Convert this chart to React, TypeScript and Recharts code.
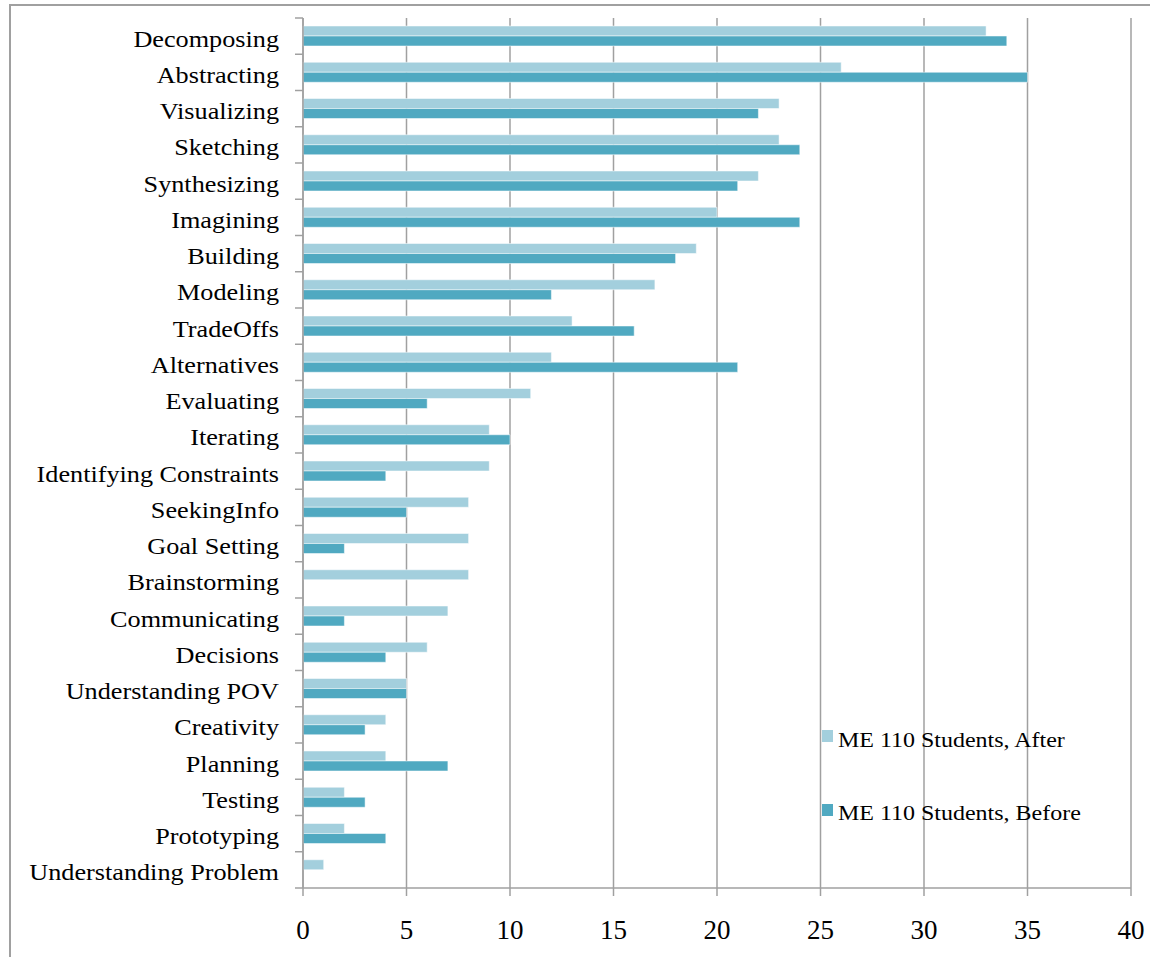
import React from "react";
import { BarChart, Bar, XAxis, YAxis, CartesianGrid, Legend } from "recharts";

const categories = [
  "Decomposing",
  "Abstracting",
  "Visualizing",
  "Sketching",
  "Synthesizing",
  "Imagining",
  "Building",
  "Modeling",
  "TradeOffs",
  "Alternatives",
  "Evaluating",
  "Iterating",
  "Identifying Constraints",
  "SeekingInfo",
  "Goal Setting",
  "Brainstorming",
  "Communicating",
  "Decisions",
  "Understanding POV",
  "Creativity",
  "Planning",
  "Testing",
  "Prototyping",
  "Understanding Problem",
];

const afterValues = [33, 26, 23, 23, 22, 20, 19, 17, 13, 12, 11, 9, 9, 8, 8, 8, 7, 6, 5, 4, 4, 2, 2, 1];
const beforeValues = [34, 35, 22, 24, 21, 24, 18, 12, 16, 21, 6, 10, 4, 5, 2, 0, 2, 4, 5, 3, 7, 3, 4, 0];

const xTicks = [0, 5, 10, 15, 20, 25, 30, 35, 40];
const seriesNames = ["ME 110 Students, After", "ME 110 Students, Before"];
const seriesColors = ["#a3cfdd", "#50a9c1"];

const data = categories.map((name, i) => ({
  name,
  after: afterValues[i],
  before: beforeValues[i],
}));

const W = 1150;
const H = 957;
const PLOT_LEFT = 303;
const PLOT_TOP = 18;
const PLOT_BOTTOM = 888;
const BAND = (PLOT_BOTTOM - PLOT_TOP) / categories.length;
const GRAY = "#a0a0a0";
const FONT = "'Liberation Serif', 'Times New Roman', serif";

// category labels plus Excel-style tick marks on the band edges
function YTick(props: any) {
  const { y, payload, index } = props;
  const last = index === categories.length - 1;
  return (
    <g>
      <line x1={PLOT_LEFT - 8} x2={PLOT_LEFT} y1={y - BAND / 2} y2={y - BAND / 2} stroke={GRAY} strokeWidth={1.5} />
      {last && (
        <line x1={PLOT_LEFT - 8} x2={PLOT_LEFT} y1={y + BAND / 2} y2={y + BAND / 2} stroke={GRAY} strokeWidth={1.5} />
      )}
      <text
        transform={`translate(${PLOT_LEFT - 24}, ${y + 10.5}) scale(1.14, 1)`}
        textAnchor="end"
        fontFamily={FONT}
        fontSize={23}
        fill="#000"
      >
        {payload.value}
      </text>
    </g>
  );
}

function XTick(props: any) {
  const { x, payload } = props;
  return (
    <text x={x} y={PLOT_BOTTOM + 51} textAnchor="middle" fontFamily={FONT} fontSize={27} fill="#000">
      {payload.value}
    </text>
  );
}

function LegendBox() {
  return (
    <svg width={330} height={130}>
      {seriesNames.map((n, i) => (
        <g key={n}>
          <rect x={0} y={30 + i * 74} width={11} height={12} fill={seriesColors[i]} />
          <text
            transform={`translate(16, ${47 + i * 73}) scale(1.17, 1)`}
            fontFamily={FONT}
            fontSize={20.5}
            fill="#000"
          >
            {n}
          </text>
        </g>
      ))}
    </svg>
  );
}

export default function App() {
  return (
    <div style={{ position: "absolute", left: 0, top: 0, width: W, height: H, overflow: "hidden", background: "#fff" }}>
      <div
        style={{
          position: "absolute",
          left: 9,
          top: 4,
          width: 1200,
          height: 1000,
          borderTop: `2px solid ${GRAY}`,
          borderLeft: `2px solid ${GRAY}`,
        }}
      />
      <div style={{ position: "absolute", left: 0, top: 0 }}>
        <BarChart
          width={W}
          height={H}
          data={data}
          layout="vertical"
          margin={{ top: PLOT_TOP, right: 19, bottom: 29, left: 0 }}
          barGap={0}
          barSize={10}
        >
          <CartesianGrid horizontal={false} stroke={GRAY} strokeWidth={1.5} />
          <XAxis
            type="number"
            domain={[0, 40]}
            ticks={xTicks}
            interval={0}
            height={40}
            tickSize={8}
            axisLine={{ stroke: GRAY, strokeWidth: 1.5 }}
            tickLine={{ stroke: GRAY, strokeWidth: 1.5 }}
            tick={<XTick />}
          />
          <YAxis
            type="category"
            dataKey="name"
            width={PLOT_LEFT}
            interval={0}
            tickLine={false}
            axisLine={{ stroke: GRAY, strokeWidth: 1.5 }}
            tick={<YTick />}
          />
          <Legend
            layout="horizontal"
            verticalAlign="middle"
            align="center"
            wrapperStyle={{ position: "absolute", left: 822, top: 700, width: 330, height: 130 }}
            content={() => <LegendBox />}
          />
          <Bar dataKey="after" name={seriesNames[0]} fill={seriesColors[0]} stroke="#ffffff" strokeOpacity={0.5} strokeWidth={1} isAnimationActive={false} />
          <Bar dataKey="before" name={seriesNames[1]} fill={seriesColors[1]} stroke="#ffffff" strokeOpacity={0.5} strokeWidth={1} isAnimationActive={false} />
        </BarChart>
      </div>
    </div>
  );
}
